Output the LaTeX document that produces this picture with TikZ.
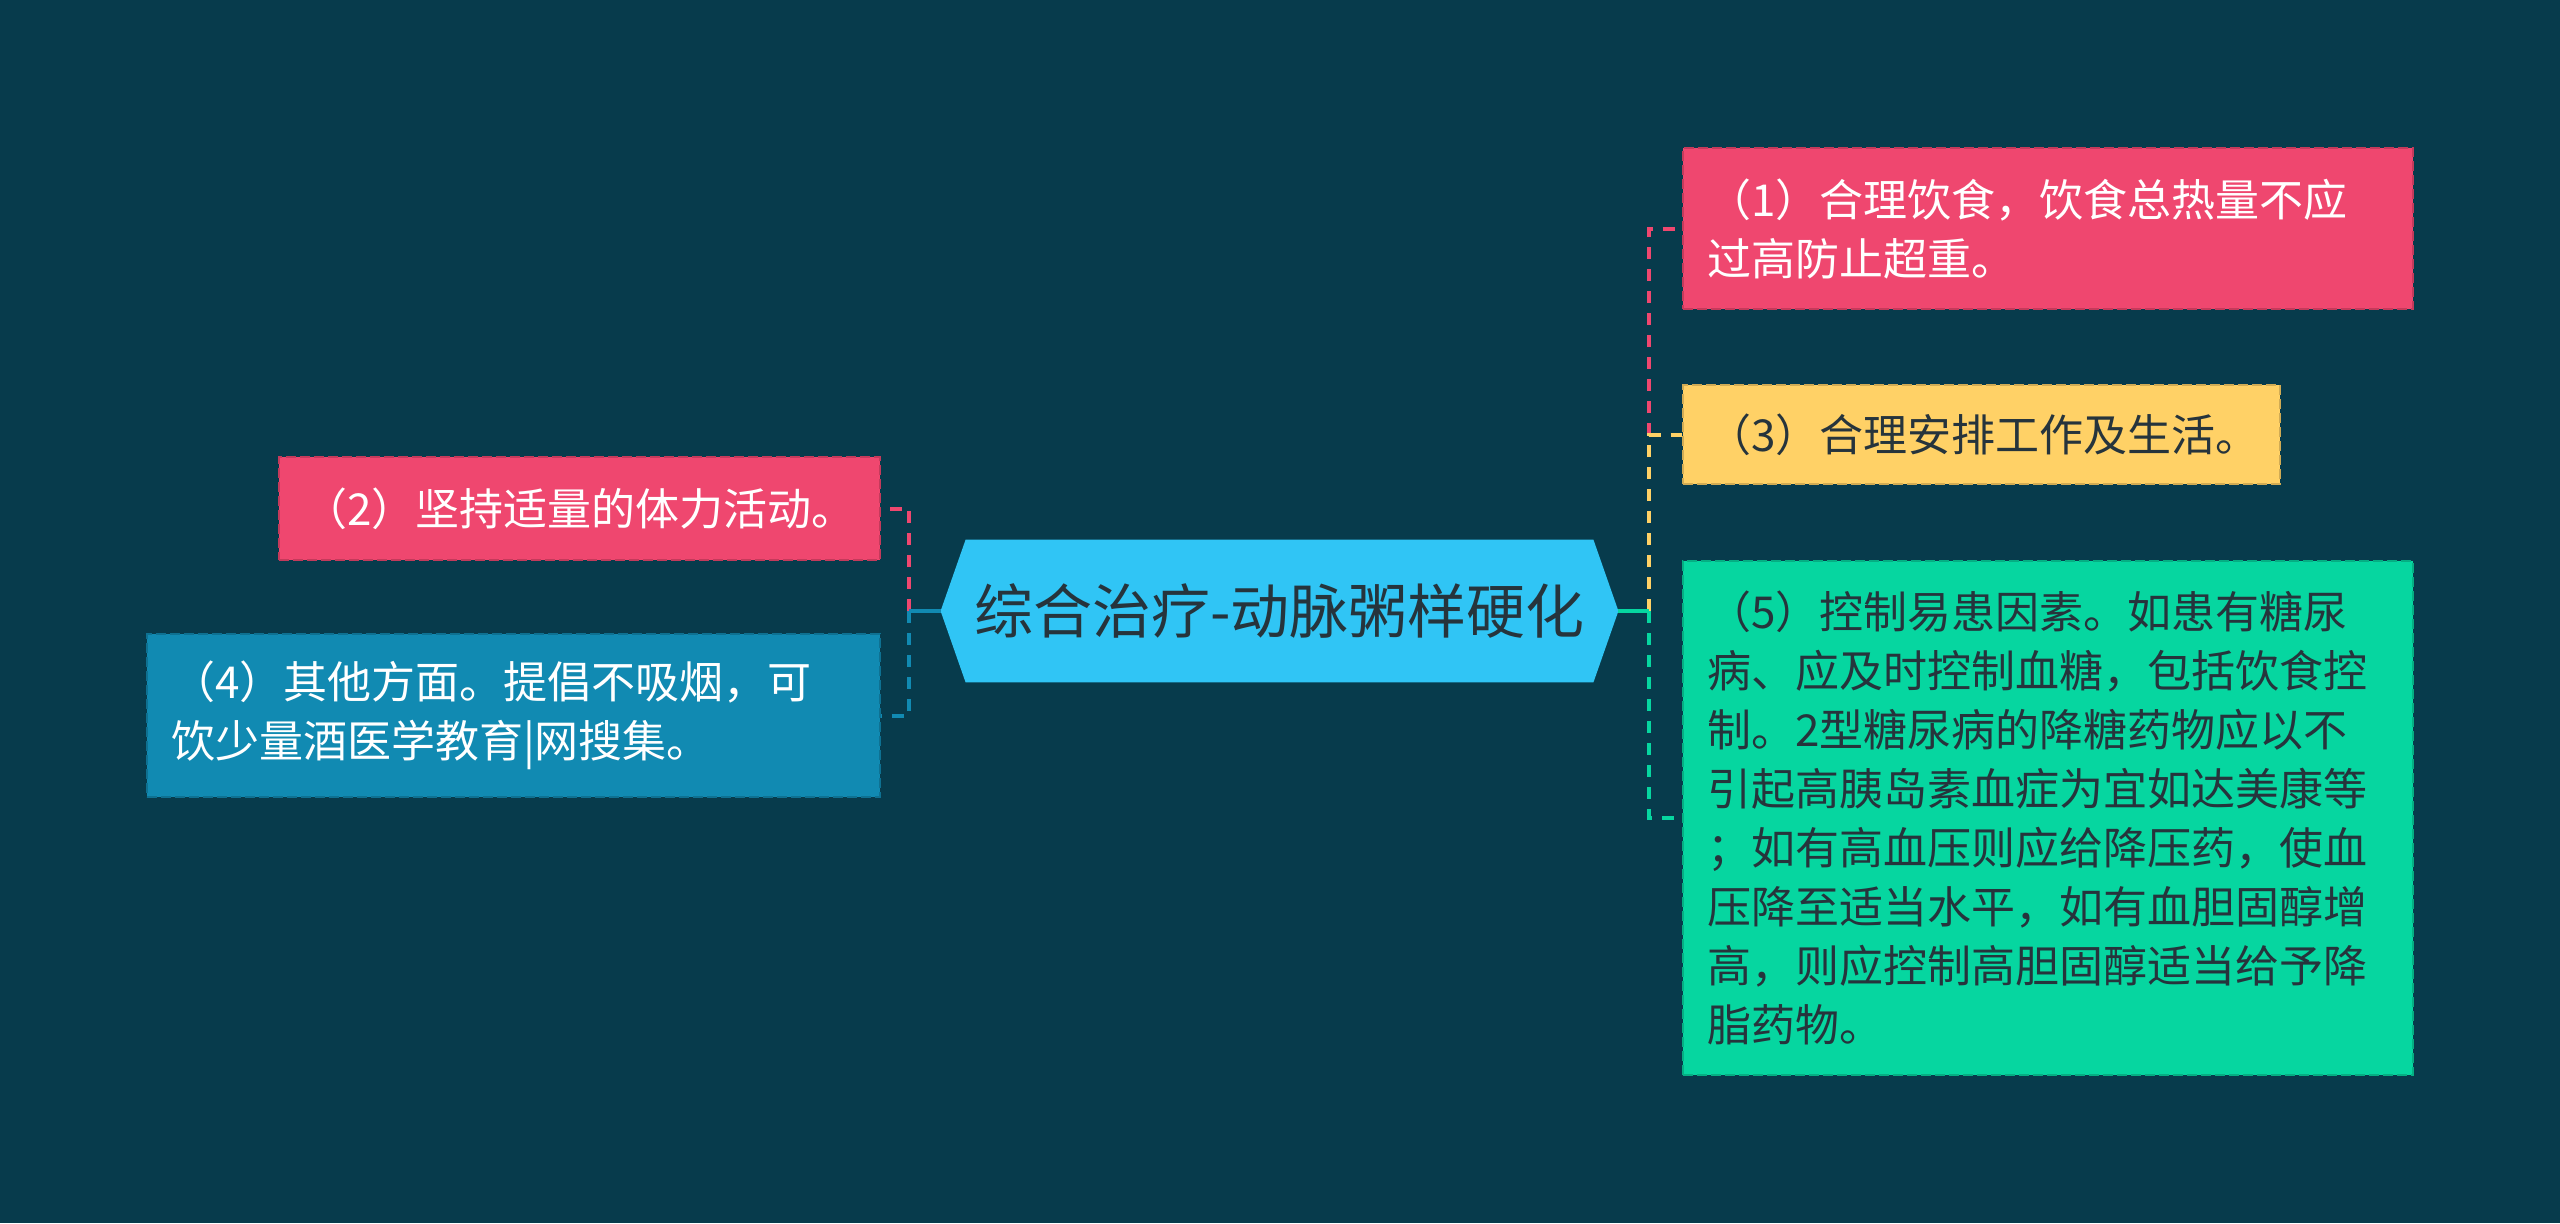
\documentclass[tikz,border=0pt]{standalone}
\usepackage{fontspec}
\newfontfamily\cjk{Noto Sans CJK SC}
\usetikzlibrary{backgrounds}
\definecolor{bgc}{HTML}{073B4C}
\definecolor{pinkc}{HTML}{EF476F}
\definecolor{yelc}{HTML}{FFD166}
\definecolor{grnc}{HTML}{06D6A0}
\definecolor{bluc}{HTML}{118AB2}
\definecolor{cenc}{HTML}{30C5F5}
\definecolor{darkt}{HTML}{26343C}
\tikzset{
  leaf/.style={rectangle, fill=#1, draw=#1!82!black, line width=1pt,
    dash pattern=on 5pt off 2pt, inner xsep=12pt, inner ysep=0pt,
    align=left, anchor=north west,
    font=\cjk\fontsize{22}{29.5}\selectfont},
  lighttext/.style={text=white},
  darktext/.style={text=darkt},
  stub/.style={line width=2pt, draw=#1},
  dline/.style={line width=2pt, draw=#1, dash pattern=on 6pt off 5pt},
}
\begin{document}
\begin{tikzpicture}[x=0.5pt,y=-0.5pt]
\useasboundingbox (0,0) rectangle (2560,1223);
\node[inner sep=0pt, minimum width=338.5pt, minimum height=71pt, text=darkt,
  font=\cjk\fontsize{29.5}{32}\selectfont] (c) at (1279.5,611) {综合治疗-动脉粥样硬化};
\begin{scope}[on background layer]
  \fill[bgc] (0,0) rectangle (2560,1223);
  \fill[cenc] (c.west) -- ([xshift=12.5pt]c.north west) -- ([xshift=-12.5pt]c.north east)
    -- (c.east) -- ([xshift=-12.5pt]c.south east) -- ([xshift=12.5pt]c.south west) -- cycle;
\end{scope}

\node[leaf=pinkc, lighttext, minimum width=365pt, minimum height=80.5pt, text width=341pt]
  (n1) at (1682,147) {（1）合理饮食，饮食总热量不应\\过高防止超重。};
\node[leaf=yelc, darktext, minimum width=298.5pt, minimum height=49.5pt, text width=274.5pt]
  (n3) at (1682,384) {（3）合理安排工作及生活。};
\node[leaf=grnc, darktext, minimum width=365pt, minimum height=257pt, text width=341pt]
  (n5) at (1682,560) {（5）控制易患因素。如患有糖尿\\病、应及时控制血糖，包括饮食控\\制。2型糖尿病的降糖药物应以不\\引起高胰岛素血症为宜如达美康等\\；如有高血压则应给降压药，使血\\压降至适当水平，如有血胆固醇增\\高，则应控制高胆固醇适当给予降\\脂药物。};
\node[leaf=pinkc, lighttext, minimum width=300.5pt, minimum height=51.5pt, text width=276.5pt]
  (n2) at (278,456) {（2）坚持适量的体力活动。};
\node[leaf=bluc, lighttext, minimum width=366.5pt, minimum height=81.5pt, text width=342.5pt]
  (n4) at (146,633) {（4）其他方面。提倡不吸烟，可\\饮少量酒医学教育|网搜集。};

\coordinate (rj) at (1649,611);
\coordinate (lj) at (909,611);

\draw[dline=pinkc] (rj) |- (n1.west);
\draw[dline=yelc] (rj) |- (n3.west);
\draw[dline=grnc] (rj) |- (n5.west);
\draw[stub=grnc] (c.east) -- (rj);

\draw[dline=pinkc] (lj) |- (n2.east);
\draw[dline=bluc] (lj) |- (n4.east);
\draw[stub=bluc] (c.west) -- (lj);
\end{tikzpicture}
\end{document}
